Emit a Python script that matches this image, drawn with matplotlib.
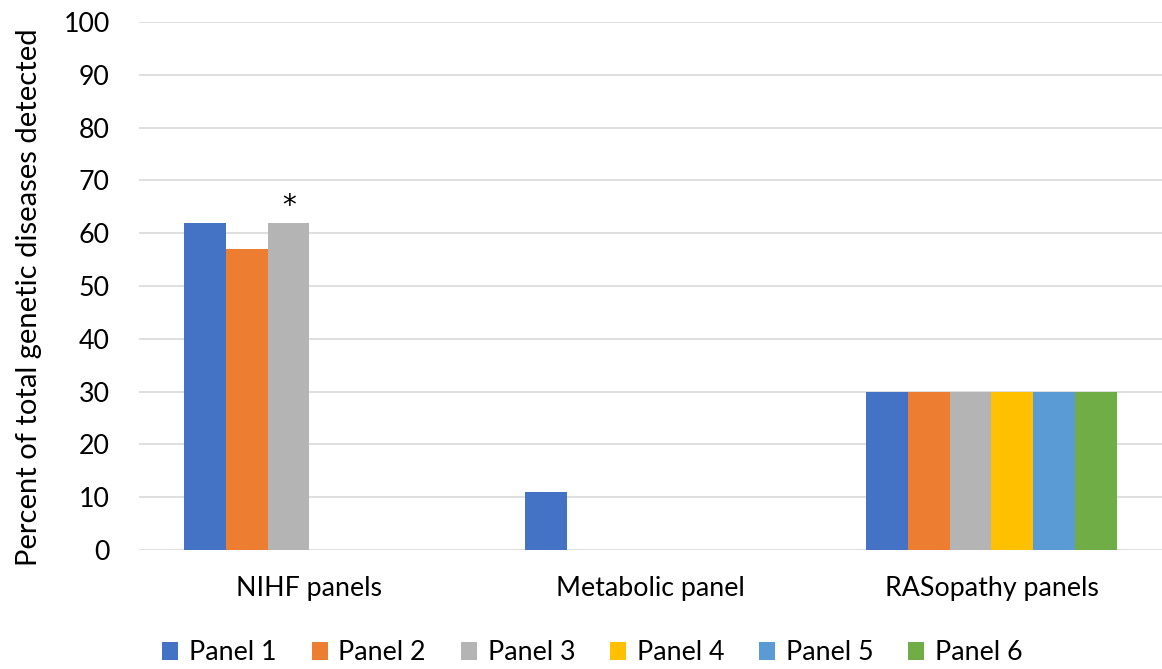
import numpy as np
import matplotlib.pyplot as plt
from matplotlib.patches import Patch

plt.rcParams['font.family'] = ['Lato', 'DejaVu Sans']

categories = ["NIHF panels", "Metabolic panel", "RASopathy panels"]
series = ["Panel 1", "Panel 2", "Panel 3", "Panel 4", "Panel 5", "Panel 6"]
colours = ["#4472C4", "#ED7D31", "#B4B4B4", "#FFC000", "#5B9BD5", "#70AD47"]
# rows = panels, columns = categories (nan = no bar)
values = [
	[62, 11, 30],
	[57, np.nan, 30],
	[62, np.nan, 30],
	[np.nan, np.nan, 30],
	[np.nan, np.nan, 30],
	[np.nan, np.nan, 30],
]
y_ticks = list(range(0, 101, 10))

fig = plt.figure(figsize=(11.62, 6.69), dpi=100)
ax = fig.add_axes([0.1196, 0.1779, 0.8804, 0.7892])

x = np.arange(len(categories))
w = 0.1224
for i, (name, col) in enumerate(zip(series, colours)):
	off = (i - (len(series) - 1) / 2) * w
	ax.bar(x + off, values[i], width=w, color=col, zorder=3)

# asterisk over NIHF panel 3
ax.text(0 + (2 - 2.5) * w, values[2][0] + 0.5, "*", ha='center', va='bottom',
	fontsize=20, family='DejaVu Sans')

ax.set_xlim(-0.5, 2.5)
ax.set_ylim(0, 100)
ax.set_yticks(y_ticks)
ax.set_xticks(x)
ax.set_xticklabels(categories, fontsize=19.3)
ax.tick_params(axis='both', length=0, labelsize=19.3)
ax.tick_params(axis='y', pad=21)
ax.tick_params(axis='x', pad=19)
ax.grid(axis='y', color='#D9D9D9', lw=1.2, zorder=0)
for s in ax.spines.values():
	s.set_visible(False)

ax.set_ylabel("Percent of total genetic diseases detected", fontsize=21)
ax.yaxis.set_label_coords(-0.095, 0.478)

handles = [Patch(facecolor=c, label=n) for n, c in zip(series, colours)]
fig.legend(handles=handles, loc='center', bbox_to_anchor=(0.51, 0.024), ncol=6,
	frameon=False, fontsize=19.3, handlelength=0.6, handleheight=0.6,
	handletextpad=0.4, columnspacing=1.3, borderaxespad=0)

fig.savefig("out.png", dpi=100)
